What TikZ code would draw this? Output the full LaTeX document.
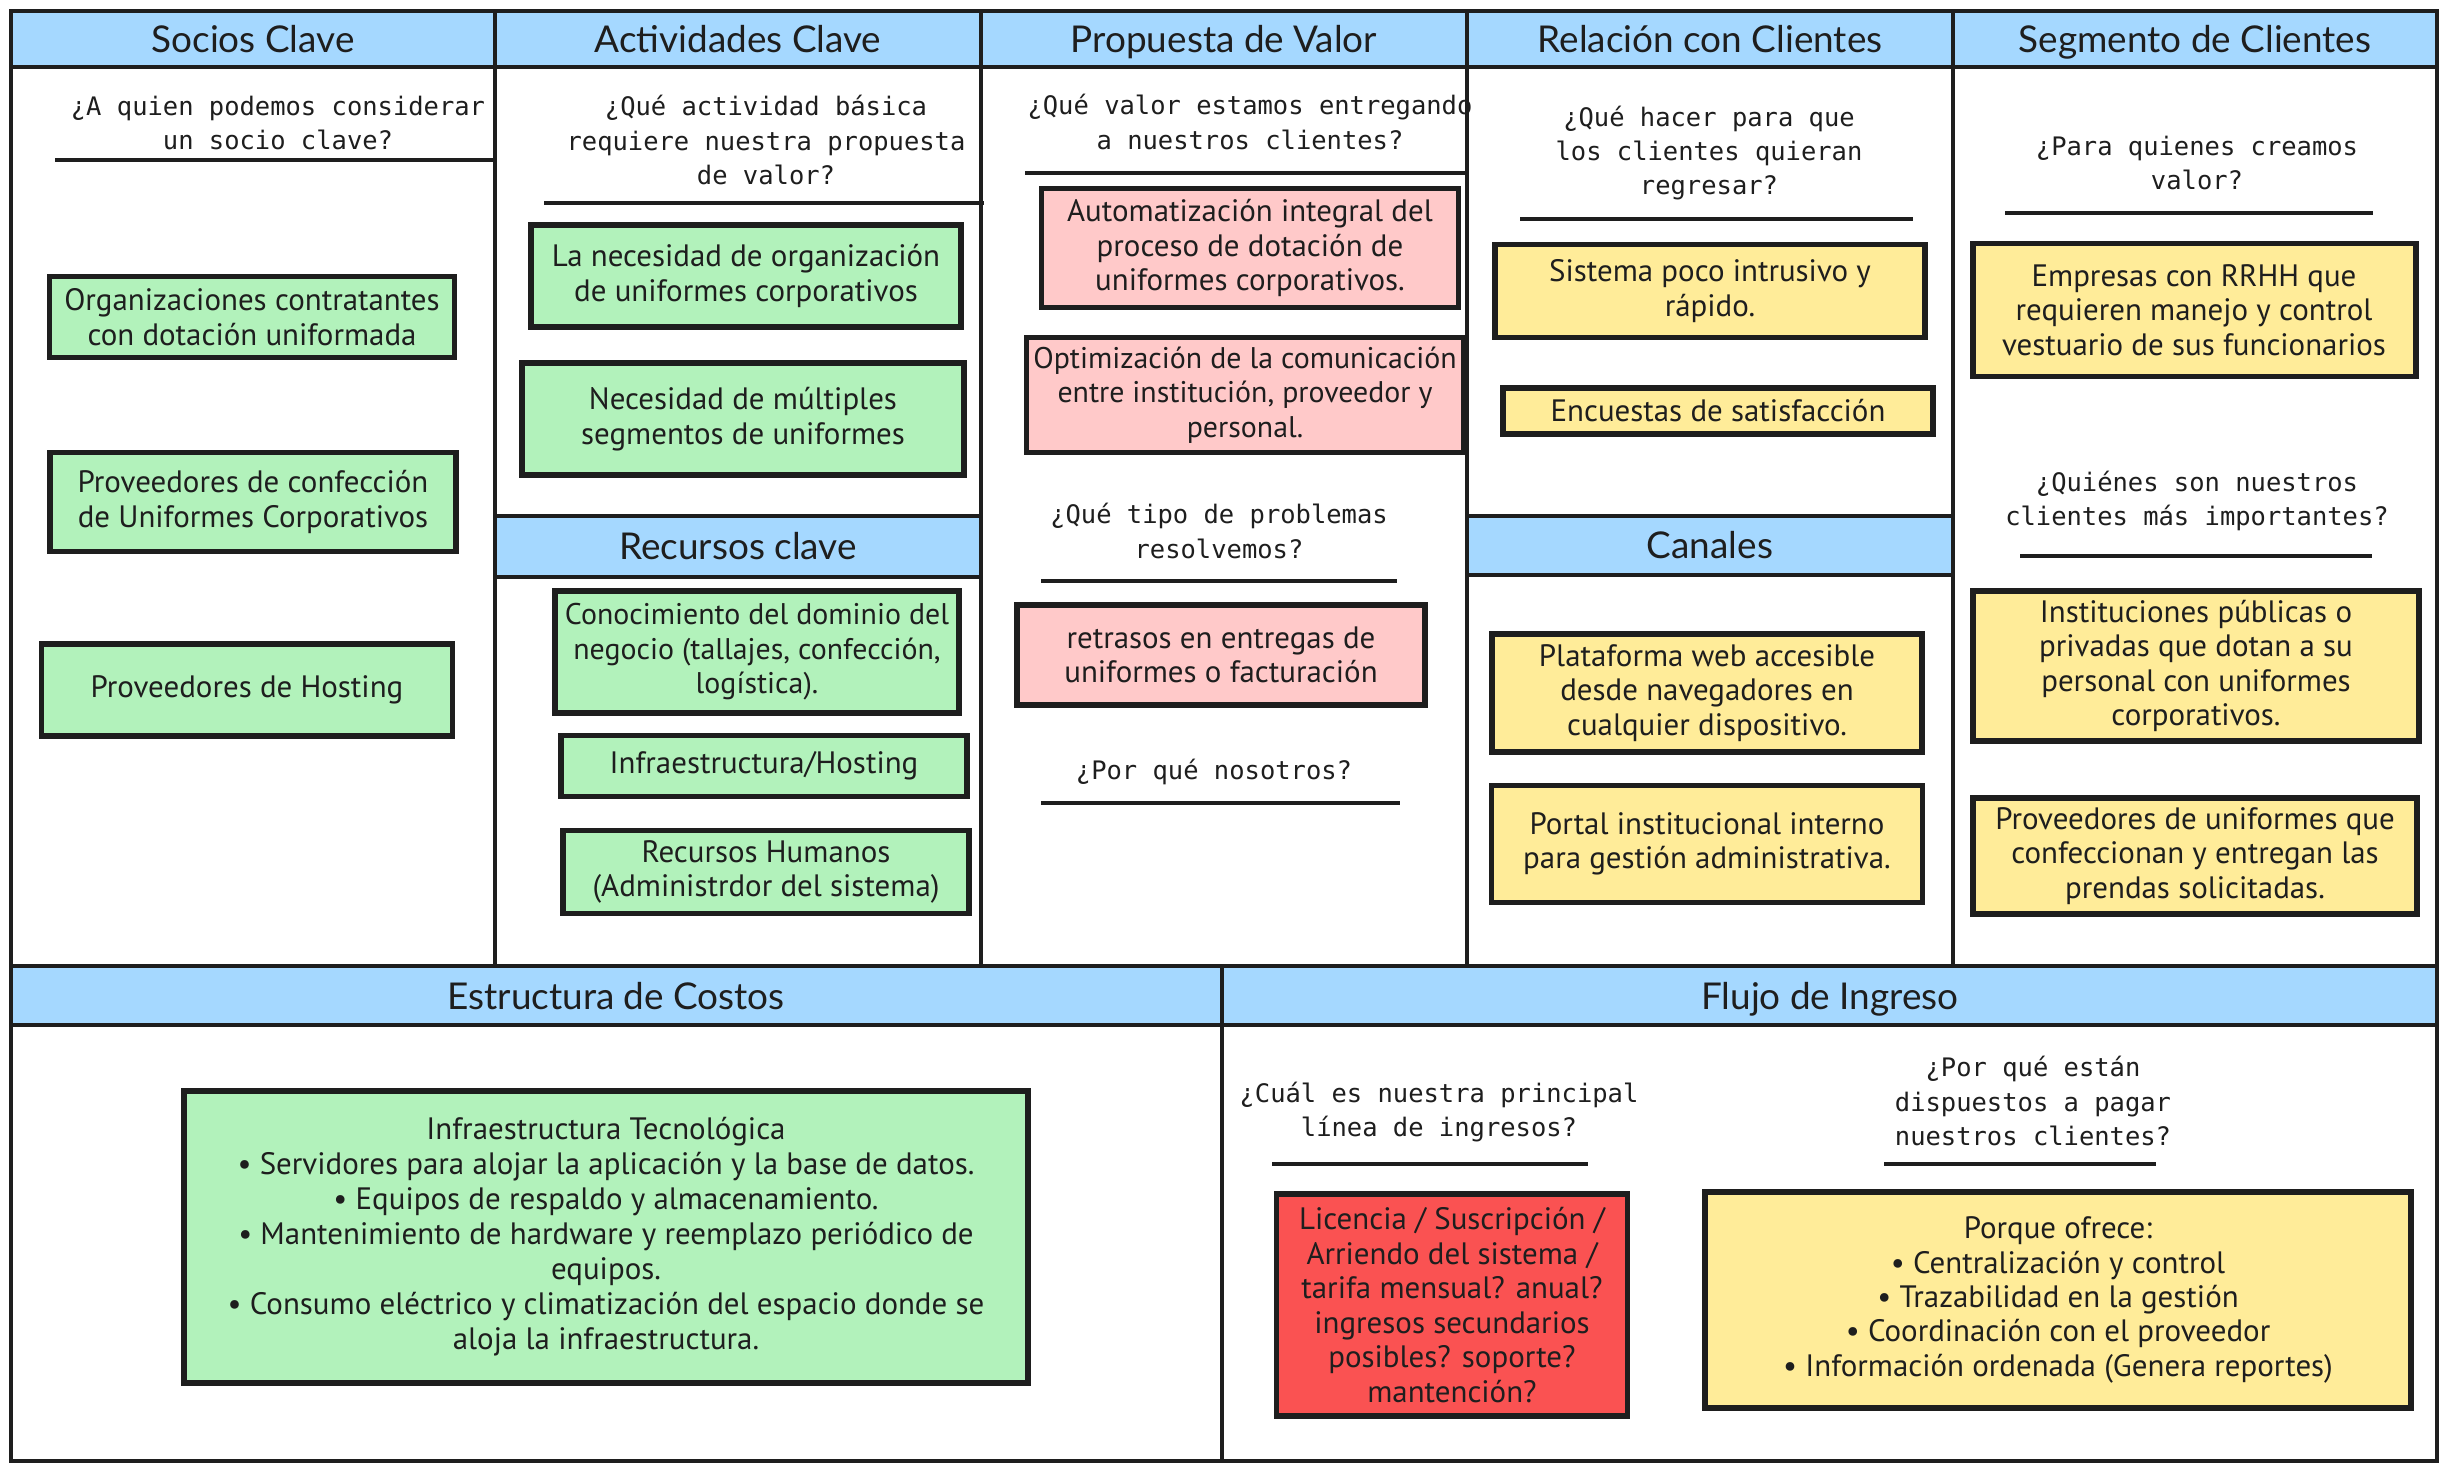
\documentclass[tikz,border=0pt]{standalone}
\usepackage{fontspec}
\usetikzlibrary{positioning}
\newfontfamily\headfont{Lato}
\newfontfamily\askfont{DejaVu Sans Mono}
\newfontfamily\handfont{PT Sans}
\definecolor{ink}{HTML}{1E1E1E}
\definecolor{headBlue}{HTML}{A5D8FF}
\definecolor{noteGreen}{HTML}{B2F2BB}
\definecolor{notePink}{HTML}{FFC9C9}
\definecolor{noteYellow}{HTML}{FFEC99}
\definecolor{noteRed}{HTML}{FA5252}

\begin{document}
\begin{tikzpicture}[x=0.1mm, y=-0.1mm,
    frame/.style={draw=ink, line width=1.1pt},
    head/.style={text=ink, text height=0.75em, text depth=0pt, font=\headfont\fontsize{10.5}{12}\selectfont},
    ask/.style={align=center, text=ink, font=\askfont\fontsize{7.25}{9.75}\selectfont},
    askLine/.style={draw=ink, line width=0.9pt},
    note/.style={rectangle, draw=ink, line width=1.7pt, align=center, inner sep=1pt, text=ink, font=\handfont\fontsize{8.8}{9.8}\selectfont},
    smallNote/.style={font=\handfont\fontsize{8.5}{9.8}\selectfont},
    greenNote/.style={note, fill=noteGreen},
    pinkNote/.style={note, fill=notePink},
    yellowNote/.style={note, fill=noteYellow},
    redNote/.style={note, fill=noteRed},
]
    \fill[white] (0,0) rectangle (2450,1471);
    \useasboundingbox (0,0) rectangle (2450,1471);

    % Canvas
    \fill[headBlue] (11,11) rectangle (2437,67);
    \fill[headBlue] (495,516) rectangle (981,577);
    \fill[headBlue] (1467,516) rectangle (1953,575);
    \fill[headBlue] (11,966) rectangle (2437,1025);
    \draw[frame] (11,11) rectangle (2437,1461);
    \draw[frame] (11,67) -- (2437,67);
    \draw[frame] (11,966) -- (2437,966);
    \draw[frame] (11,1025) -- (2437,1025);
    \foreach \x in {495,981,1467,1953}
        \draw[frame] (\x,11) -- (\x,966);
    \draw[frame] (1222,966) -- (1222,1461);
    \draw[frame] (495,516) -- (981,516) (495,577) -- (981,577);
    \draw[frame] (1467,516) -- (1953,516) (1467,575) -- (1953,575);

    % Headers
    \node[head] (hSocios) at (253,39)   {Socios Clave};
    \node[head] (hAct)    at (738,39)   {Actividades Clave};
    \node[head] (hValor)  at (1224,39)  {Propuesta de Valor};
    \node[head] (hRel)    at (1710,39)  {Relación con Clientes};
    \node[head] (hSeg)    at (2195,39)  {Segmento de Clientes};
    \node[head] (hRec)    at (738,546)  {Recursos clave};
    \node[head] (hCan)    at (1710,545) {Canales};
    \node[head] (hCost)   at (616,996)  {Estructura de Costos};
    \node[head] (hIng)    at (1830,996) {Flujo de Ingreso};

    % Questions
    \node[ask] (qSocios) at (278,123)  {¿A quien podemos considerar\\un socio clave?};
    \node[ask] (qAct)    at (766,140)  {¿Qué actividad básica\\requiere nuestra propuesta\\de valor?};
    \node[ask] (qValor)  at (1250,122) {¿Qué valor estamos entregando\\a nuestros clientes?};
    \node[ask] (qProb)   at (1219,531) {¿Qué tipo de problemas\\resolvemos?};
    \node[ask] (qWhy)    at (1214,772) {¿Por qué nosotros?};
    \node[ask] (qRel)    at (1709,153) {¿Qué hacer para que\\los clientes quieran\\regresar?};
    \node[ask] (qSeg)    at (2197,163) {¿Para quienes creamos\\valor?};
    \node[ask] (qImp)    at (2197,501) {¿Quiénes son nuestros\\clientes más importantes?};
    \node[ask] (qLinea)  at (1439,1112) {¿Cuál es nuestra principal\\línea de ingresos?};
    \node[ask] (qPagar)  at (2033,1101) {¿Por qué están\\dispuestos a pagar\\nuestros clientes?};

    % Lines under questions
    \draw[askLine] (55,160) -- (495,160);
    \draw[askLine] (544,203) -- (984,203);
    \draw[askLine] (1025,173) -- (1467,173);
    \draw[askLine] (1041,581) -- (1397,581);
    \draw[askLine] (1041,803) -- (1400,803);
    \draw[askLine] (1520,219) -- (1913,219);
    \draw[askLine] (2005,213) -- (2373,213);
    \draw[askLine] (2020,556) -- (2372,556);
    \draw[askLine] (1272,1164) -- (1588,1164);
    \draw[askLine] (1884,1164) -- (2156,1164);

    % Socios
    \node[greenNote, minimum width=40.5mm, minimum height=8.1mm] (sOrg) at (252,317) {Organizaciones contratantes\\con dotación uniformada};
    \node[greenNote, minimum width=40.6mm, minimum height=9.9mm] (sConf) at (253,502) {Proveedores de confección\\de Uniformes Corporativos};
    \node[greenNote, minimum width=41.1mm, minimum height=9.2mm] (sHost) at (247,690) {Proveedores de Hosting};

    % Actividades y recursos
    \node[greenNote, minimum width=43.0mm, minimum height=10.2mm] (aOrg) at (746,276) {La necesidad de organización\\de uniformes corporativos};
    \node[greenNote, minimum width=44.2mm, minimum height=11.2mm] (aSeg) at (743,419) {Necesidad de múltiples\\segmentos de uniformes};
    \node[greenNote, smallNote, minimum width=40.4mm, minimum height=12.2mm] (rDom) at (757,652) {Conocimiento del dominio del\\negocio (tallajes, confección,\\logística).};
    \node[greenNote, minimum width=40.6mm, minimum height=6.1mm] (rInfra) at (764,766) {Infraestructura/Hosting};
    \node[greenNote, minimum width=40.6mm, minimum height=8.3mm] (rHum) at (766,872) {Recursos Humanos\\(Administrdor del sistema)};

    % Propuesta de valor
    \node[pinkNote, minimum width=41.7mm, minimum height=11.9mm] (vAuto) at (1250,248) {Automatización integral del\\proceso de dotación de\\uniformes corporativos.};
    \node[pinkNote, smallNote, minimum width=43.7mm, minimum height=11.5mm] (vOpt) at (1245,395) {Optimización de la comunicación\\entre institución, proveedor y\\personal.};
    \node[pinkNote, minimum width=40.8mm, minimum height=10.0mm] (vRetr) at (1221,655) {retrasos en entregas de\\uniformes o facturación};

    % Relacion y canales
    \node[yellowNote, minimum width=43.0mm, minimum height=9.3mm] (cSist) at (1710,291) {Sistema poco intrusivo y\\rápido.};
    \node[yellowNote, minimum width=43.0mm, minimum height=4.6mm] (cEnc) at (1718,411) {Encuestas de satisfacción};
    \node[yellowNote, minimum width=43.0mm, minimum height=11.8mm] (cWeb) at (1707,693) {Plataforma web accesible\\desde navegadores en\\cualquier dispositivo.};
    \node[yellowNote, minimum width=43.1mm, minimum height=11.7mm] (cPortal) at (1707,844) {Portal institucional interno\\para gestión administrativa.};

    % Segmentos
    \node[yellowNote, minimum width=44.3mm, minimum height=13.3mm] (gEmp) at (2194,310) {Empresas con RRHH que\\requieren manejo y control\\vestuario de sus funcionarios};
    \node[yellowNote, minimum width=44.6mm, minimum height=15.0mm] (gInst) at (2196,666) {Instituciones públicas o\\privadas que dotan a su\\personal con uniformes\\corporativos.};
    \node[yellowNote, minimum width=44.4mm, minimum height=11.6mm] (gProv) at (2195,856) {Proveedores de uniformes que\\confeccionan y entregan las\\prendas solicitadas.};

    % Costos e ingresos
    \node[greenNote, minimum width=84.4mm, minimum height=29.2mm, font=\handfont\fontsize{8.8}{9.95}\selectfont] (kInfra) at (606,1237) {Infraestructura Tecnológica\\• Servidores para alojar la aplicación y la base de datos.\\• Equipos de respaldo y almacenamiento.\\• Mantenimiento de hardware y reemplazo periódico de\\equipos.\\• Consumo eléctrico y climatización del espacio donde se\\aloja la infraestructura.};
    \node[redNote, minimum width=35.1mm, minimum height=22.2mm] (iLic) at (1452,1305) {Licencia / Suscripción /\\Arriendo del sistema /\\tarifa mensual? anual?\\ingresos secundarios\\posibles? soporte?\\mantención?};
    \node[yellowNote, minimum width=70.6mm, minimum height=21.6mm] (iPorq) at (2058,1300) {Porque ofrece:\\• Centralización y control\\• Trazabilidad en la gestión\\• Coordinación con el proveedor\\• Información ordenada (Genera reportes)};
\end{tikzpicture}
\end{document}
